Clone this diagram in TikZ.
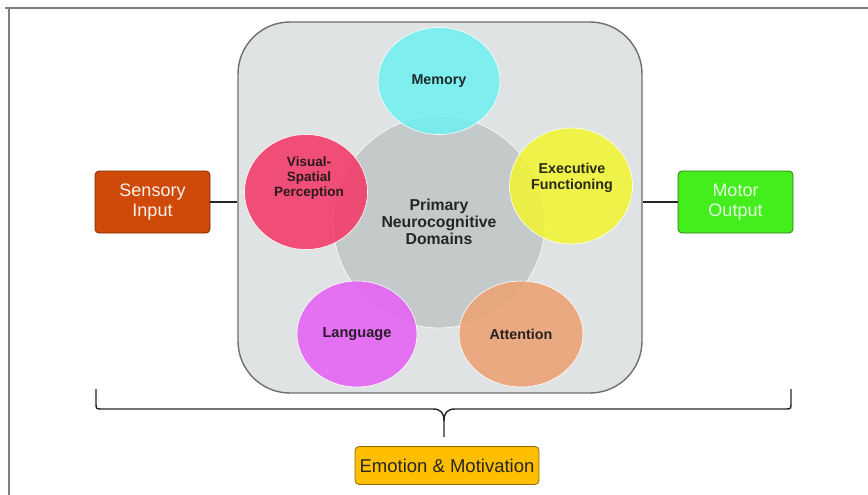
\documentclass[tikz,border=0pt]{standalone}
\usepackage{fontspec}
\setmainfont{Liberation Sans}
\usetikzlibrary{shapes.geometric}

\definecolor{framegray}{HTML}{7F7F7F}
\definecolor{panelfill}{HTML}{DFE3E3}
\definecolor{paneledge}{HTML}{6E6E6E}
\definecolor{corefill}{HTML}{C4CACA}
\definecolor{memfill}{HTML}{6EF0F0}
\definecolor{visfill}{HTML}{F53465}
\definecolor{exefill}{HTML}{F1F52F}
\definecolor{lanfill}{HTML}{E55EF5}
\definecolor{attfill}{HTML}{ECA071}
\definecolor{sensfill}{HTML}{CF4A08}
\definecolor{sensedge}{HTML}{7A2A05}
\definecolor{motfill}{HTML}{44EE1C}
\definecolor{motedge}{HTML}{2A7A12}
\definecolor{emofill}{HTML}{FFBF00}
\definecolor{emoedge}{HTML}{8A6A10}
\definecolor{labeltext}{HTML}{141414}

\tikzset{
  domainshape/.style={ellipse, draw=white, line width=0.6pt, fill opacity=0.85,
    text opacity=0.9, text=labeltext, font=\bfseries\fontsize{14.3}{16}\selectfont,
    align=center, inner sep=0pt},
  domainlabel/.style={text=labeltext, text opacity=0.9, align=center},
  sidebox/.style={rounded corners=4pt, line width=0.8pt, minimum width=115pt,
    minimum height=62pt, align=center, font=\fontsize{18}{20}\selectfont},
  linkline/.style={line width=1.4pt, draw=black!85}
}

\begin{document}
\begin{tikzpicture}[x=1pt,y=-1pt]
  \useasboundingbox (0,0) rectangle (868,495);

  % outer frame lines
  \draw[framegray, line width=1.2pt] (5,8) -- (868,8);
  \draw[framegray, line width=1.2pt] (9,8) -- (9,495);

  % grey panel holding the domains
  \node[draw=paneledge, line width=1.4pt, fill=panelfill, rounded corners=52pt,
        minimum width=404pt, minimum height=371pt] (panel) at (440,207.5) {};

  % central circle
  \node[circle, fill=corefill, draw=white!85!corefill, line width=0.8pt,
        minimum size=212pt] (core) at (439,222) {};

  % the five domains
  \node[domainshape, fill=memfill, minimum width=122pt, minimum height=107pt] (mem) at (439,81) {Memory};
  \node[domainshape, fill=visfill, minimum width=123pt, minimum height=115pt] (vis) at (306,192) {};
  \node[domainshape, fill=exefill, minimum width=123pt, minimum height=116pt] (exe) at (571,186) {};
  \node[domainshape, fill=lanfill, minimum width=120pt, minimum height=106pt,
        font=\bfseries\fontsize{14.6}{16}\selectfont] (lan) at (357,334) {Language};
  \node[domainshape, fill=attfill, minimum width=124pt, minimum height=106pt] (att) at (521,334) {Attention};

  % labels of the two upper side domains
  \node[domainlabel, font=\bfseries\fontsize{13.5}{15}\selectfont] (vislabel) at (309,178) {Visual-\\Spatial\\Perception};
  \node[domainlabel, font=\bfseries\fontsize{14.3}{16}\selectfont] (exelabel) at (572,178) {Executive\\Functioning};

  % centre label
  \node[domainlabel, font=\bfseries\fontsize{15.8}{17}\selectfont] (corelabel) at (439,222) {Primary\\Neurocognitive\\Domains};

  % input and output boxes
  \node[sidebox, fill=sensfill, draw=sensedge, text=white!92!sensfill] (sens) at (152.5,202) {Sensory\\Input};
  \node[sidebox, fill=motfill, draw=motedge, text=white!85!motfill] (mot) at (735.5,202) {Motor\\Output};

  \draw[linkline] (sens.east) -- (sens.east -| panel.west);
  \draw[linkline] (mot.west) -- (mot.west -| panel.east);

  % brace spanning the whole system
  \draw[line width=1.4pt, draw=black!85, line join=round]
    (96,389) -- (96,403) .. controls (96,409) .. (102,409)
    -- (433,409) .. controls (441,409) and (444,413) .. (444,421)
    -- (444,437);
  \draw[line width=1.4pt, draw=black!85, line join=round]
    (444,421) .. controls (444,413) and (447,409) .. (455,409)
    -- (785,409) .. controls (791,409) .. (791,403) -- (791,389);

  % emotion box
  \node[rounded corners=4pt, line width=0.8pt, fill=emofill, draw=emoedge,
        minimum width=184pt, minimum height=38pt, text=black!85,
        font=\fontsize{18.5}{20}\selectfont] (emo) at (447,465.5) {Emotion \& Motivation};
\end{tikzpicture}
\end{document}
